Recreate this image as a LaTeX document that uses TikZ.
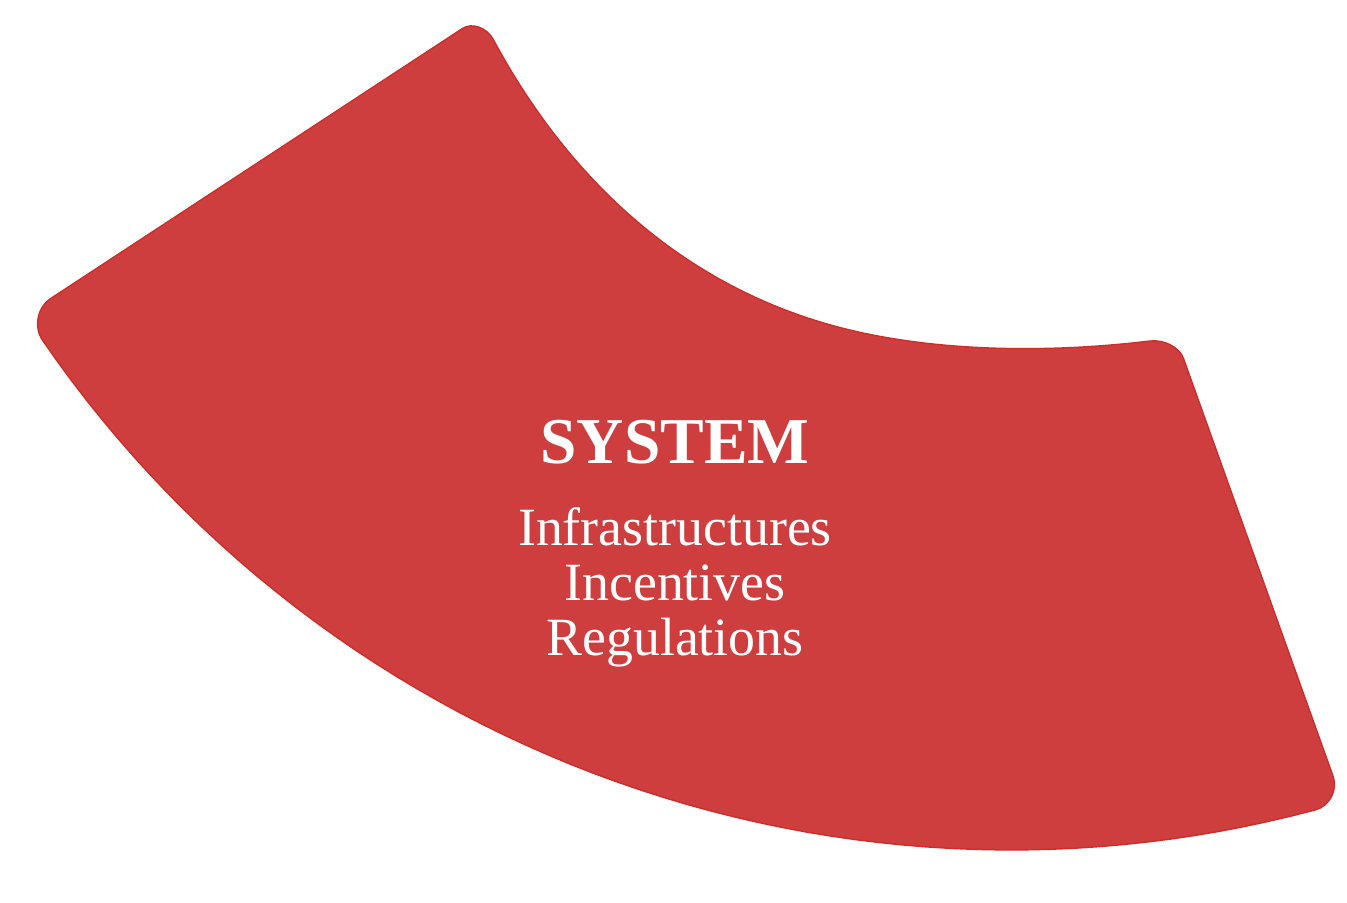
\documentclass[tikz,border=0pt]{standalone}
\usepackage{fontspec}
\setmainfont{Liberation Serif}
\definecolor{bandred}{RGB}{207,62,62}
\definecolor{bandedge}{RGB}{206,46,42}
\begin{document}
\begin{tikzpicture}
    [
    x=0.01cm, y=-0.01cm,
    band/.style={fill=bandred,draw=bandedge,line width=0.4pt},
    heading/.style={text=white,font=\bfseries\fontsize{18.6}{23}\selectfont},
    entries/.style={text=white,align=center,font=\fontsize{15.3}{15.6}\selectfont}
    ]
    \useasboundingbox (0,0) rectangle (1347,902);
    \draw [band] (50.7,298.5) -- (462.4,28.5)
      .. controls (472.4,21.9) and (487.3,28.4) .. (493,39)
      .. controls (568.7,180) and (683.4,286) .. (838,327)
      .. controls (934.6,352.6) and (1050.7,353) .. (1150,341)
      .. controls (1163.9,339.3) and (1179.5,347.2) .. (1183.5,358.5)
      -- (1333,776)
      .. controls (1338.1,790.1) and (1329.6,806.1) .. (1315.1,810)
      -- plot [domain=75:145.5,samples=60] ({1011+1175*cos(\x)},{-325+1175*sin(\x)})
      .. controls (33.4,327.2) and (37.3,307.3) .. (50.7,298.5) -- cycle;
    \node (sys) at (675,442) [heading] {SYSTEM};
    \node (levers) at (675,587) [entries] {Infrastructures\\Incentives\\Regulations};
  \end{tikzpicture}
\end{document}
